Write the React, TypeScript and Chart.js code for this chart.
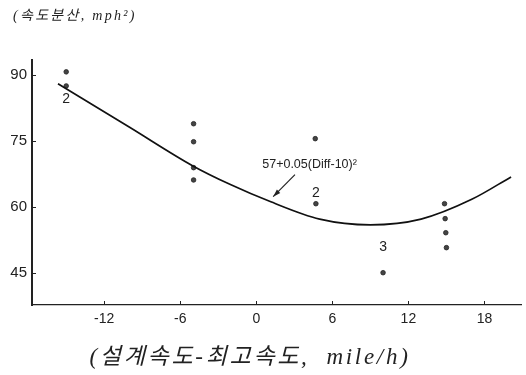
import React, { useEffect, useRef } from 'react';
import { Chart, registerables } from 'chart.js';
Chart.register(...registerables);

const xTicks = [-12, -6, 0, 6, 12, 18];
const yTicks = [45, 60, 75, 90];
const xMin = -17.7;
const xMax = 20.9;
const yMin = 37.65;
const yMax = 93.4;

const obsX = [-15, -15, -4.95, -4.95, -4.95, -4.95, 4.65, 4.7, 10, 14.85, 14.9, 14.95, 15];
const obsY = [90.7, 87.5, 78.9, 74.8, 68.9, 66.1, 75.5, 60.7, 45.0, 60.7, 57.3, 54.1, 50.7];

const curveX = [-15.65, -10, -5, -2, 1, 5, 9, 13, 17, 20.1];
const curveY = [88.0, 78.1, 69.3, 65.0, 61.3, 57.2, 55.9, 57.2, 61.7, 66.8];

const countText = ['2', '2', '3'];
const countX = [-15, 4.7, 10];
const countY = [84.4, 63.2, 50.9];

const formulaText = '57+0.05(Diff-10)²';
const formulaX = 4.2;
const formulaY = 69.6;
const arrowFromX = 3.05;
const arrowFromY = 67.3;
const arrowToX = 1.33;
const arrowToY = 62.3;

const yTitle = '(속도분산, mph²)';
const xTitle = '(설계속도-최고속도,  mile/h)';

const INK = '#222';

const overlay = {
  id: 'overlay',
  afterDraw(chart: any) {
    const ctx = chart.ctx as CanvasRenderingContext2D;
    const xs = chart.scales.x;
    const ys = chart.scales.y;
    ctx.save();
    // inward tick marks
    ctx.strokeStyle = INK;
    ctx.lineWidth = 1;
    xTicks.forEach((v) => {
      const px = Math.round(xs.getPixelForValue(v)) + 0.5;
      ctx.beginPath();
      ctx.moveTo(px, ys.bottom);
      ctx.lineTo(px, ys.bottom - 4);
      ctx.stroke();
    });
    yTicks.forEach((v) => {
      const py = Math.round(ys.getPixelForValue(v)) + 0.5;
      ctx.beginPath();
      ctx.moveTo(xs.left, py);
      ctx.lineTo(xs.left + 4, py);
      ctx.stroke();
    });
    // count labels
    ctx.fillStyle = INK;
    ctx.font = '14px "Liberation Sans", Arial, sans-serif';
    ctx.textAlign = 'center';
    ctx.textBaseline = 'middle';
    countText.forEach((t, i) => {
      ctx.fillText(t, xs.getPixelForValue(countX[i]), ys.getPixelForValue(countY[i]));
    });
    // formula
    ctx.font = '12.5px "Liberation Sans", Arial, sans-serif';
    ctx.fillText(formulaText, xs.getPixelForValue(formulaX), ys.getPixelForValue(formulaY));
    // arrow
    const ax0 = xs.getPixelForValue(arrowFromX);
    const ay0 = ys.getPixelForValue(arrowFromY);
    const ax1 = xs.getPixelForValue(arrowToX);
    const ay1 = ys.getPixelForValue(arrowToY);
    ctx.lineWidth = 1.2;
    ctx.beginPath();
    ctx.moveTo(ax0, ay0);
    ctx.lineTo(ax1, ay1);
    ctx.stroke();
    const ang = Math.atan2(ay1 - ay0, ax1 - ax0);
    const hl = 8;
    ctx.beginPath();
    ctx.moveTo(ax1, ay1);
    ctx.lineTo(ax1 - hl * Math.cos(ang - 0.3), ay1 - hl * Math.sin(ang - 0.3));
    ctx.lineTo(ax1 - hl * Math.cos(ang + 0.3), ay1 - hl * Math.sin(ang + 0.3));
    ctx.closePath();
    ctx.fill();
    // titles
    ctx.textAlign = 'left';
    ctx.font = 'italic 14px "Liberation Serif", "Noto Sans CJK KR", serif';
    (ctx as any).letterSpacing = '2.3px';
    ctx.fillText(yTitle, 13, 16);
    ctx.textAlign = 'center';
    ctx.font = 'italic 23px "Liberation Serif", "Noto Sans CJK KR", serif';
    (ctx as any).letterSpacing = '2.7px';
    ctx.fillText(xTitle, 250, 358);
    (ctx as any).letterSpacing = '0px';
    ctx.restore();
  },
};

export default function App() {
  const ref = useRef<HTMLCanvasElement>(null);
  useEffect(() => {
    if (!ref.current) return;
    const chart = new Chart(ref.current, {
      type: 'scatter',
      data: {
        datasets: [
          {
            data: curveX.map((x, i) => ({ x, y: curveY[i] })),
            showLine: true,
            borderColor: '#111',
            borderWidth: 1.7,
            pointRadius: 0,
            cubicInterpolationMode: 'monotone',
            fill: false,
          },
          {
            data: obsX.map((x, i) => ({ x, y: obsY[i] })),
            showLine: false,
            pointRadius: 2.3,
            pointBackgroundColor: '#444',
            pointBorderColor: '#222',
            pointBorderWidth: 0.8,
          },
        ],
      },
      options: {
        animation: false,
        responsive: true,
        maintainAspectRatio: false,
        layout: { padding: { top: 60, right: 1, left: 0, bottom: 0 } },
        plugins: { legend: { display: false }, tooltip: { enabled: false }, title: { display: false } },
        scales: {
          x: {
            type: 'linear',
            min: xMin,
            max: xMax,
            grid: { display: false, drawTicks: false },
            border: { display: true, color: INK, width: 1.3 },
            afterBuildTicks: (s: any) => {
              s.ticks = xTicks.map((v) => ({ value: v }));
            },
            afterFit: (s: any) => {
              s.height = 70;
            },
            ticks: {
              padding: 6,
              color: INK,
              font: { family: '"Liberation Sans", Arial, sans-serif', size: 14 },
              callback: (v: any) => String(v),
            },
          },
          y: {
            type: 'linear',
            min: yMin,
            max: yMax,
            grid: { display: false, drawTicks: false },
            border: { display: true, color: INK, width: 2 },
            afterBuildTicks: (s: any) => {
              s.ticks = yTicks.map((v) => ({ value: v }));
            },
            afterFit: (s: any) => {
              s.width = 32;
            },
            ticks: {
              padding: 5,
              color: INK,
              font: { family: '"Liberation Sans", Arial, sans-serif', size: 15 },
              callback: (v: any) => String(v),
            },
          },
        },
      },
      plugins: [overlay],
    });
    return () => chart.destroy();
  }, []);
  return (
    <div style={{ position: 'absolute', left: 0, top: 0, width: 526, height: 375, background: '#fff' }}>
      <canvas ref={ref} />
    </div>
  );
}
